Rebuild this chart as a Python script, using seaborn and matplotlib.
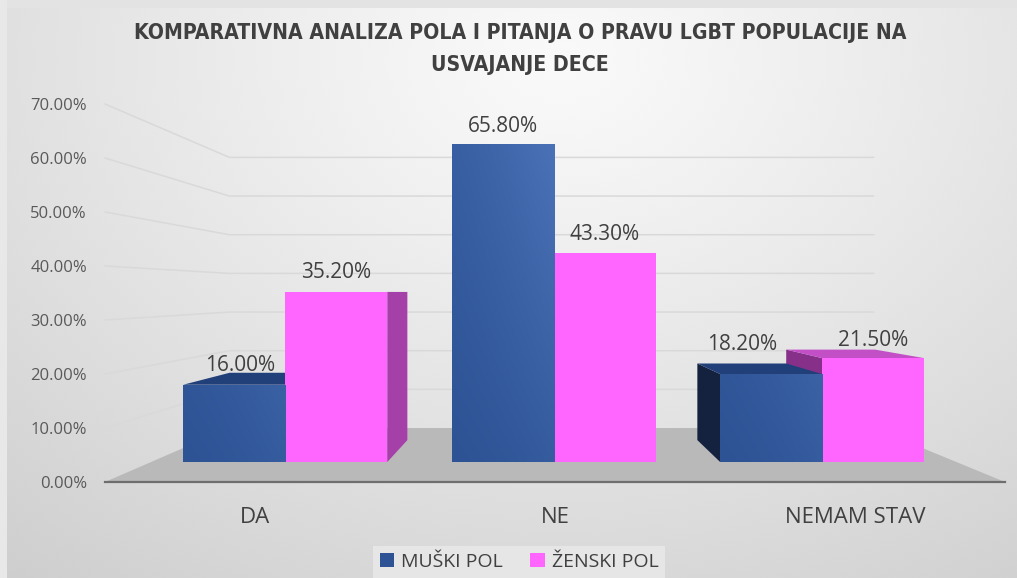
import numpy as np
import pandas as pd
import matplotlib
matplotlib.use("Agg")
import matplotlib.pyplot as plt
import seaborn as sns
from matplotlib import font_manager
from matplotlib.font_manager import FontProperties
from matplotlib.patches import Polygon, Patch
from matplotlib.transforms import IdentityTransform
from matplotlib.ticker import PercentFormatter

# ---- data -----------------------------------------------------------------
categories = ["DA", "NE", "NEMAM STAV"]
series = ["MUŠKI POL", "ŽENSKI POL"]
muski_pol = [16.0, 65.8, 18.2]
zenski_pol = [35.2, 43.3, 21.5]
y_ticks = [0, 10, 20, 30, 40, 50, 60, 70]
title_lines = ["KOMPARATIVNA ANALIZA POLA I PITANJA O PRAVU LGBT POPULACIJE NA",
               "USVAJANJE DECE"]

df = pd.DataFrame({
    "kategorija": categories * 2,
    "pol": [series[0]] * len(categories) + [series[1]] * len(categories),
    "procenat": muski_pol + zenski_pol,
})

# ---- style ----------------------------------------------------------------
W, H = 1017, 578
BLUE, BLUE_LIGHT = "#2D5395", "#4A72B6"
BLUE_TOP, BLUE_SIDE = "#213F79", "#15223F"
PINK, PINK_TOP, PINK_SIDE, PINK_SIDE_DARK = "#FF66FF", "#C24FC6", "#A540A8", "#86308A"
TEXT = "#404040"
TICK = "#595959"

sns.set_theme(style="white")
plt.rcParams["font.family"] = ["Open Sans", "DejaVu Sans"]


def weight_num(w):
    if isinstance(w, (int, float)):
        return w
    table = {"bold": 700, "heavy": 800, "black": 900, "semibold": 600,
             "demibold": 600, "extra bold": 800, "ultrabold": 800}
    return table.get(str(w).lower(), 400)


def narrow_bold_font():
    """A condensed bold face for the title, if one is installed."""
    preferred = ["Liberation Sans Narrow", "DejaVu Sans", "Noto Sans",
                 "Open Sans", "Roboto", "Lato"]
    found = []
    for f in font_manager.fontManager.ttflist:
        narrow = (f.stretch in ("condensed", "semi-condensed")
                  or "Narrow" in f.name or "Condensed" in f.name)
        if narrow and 650 <= weight_num(f.weight) <= 750 and f.style == "normal":
            rank = next((i for i, p in enumerate(preferred) if f.name.startswith(p)),
                        len(preferred))
            found.append((rank, f.fname))
    if found:
        return FontProperties(fname=sorted(found)[0][1])
    return FontProperties(family="Roboto", weight="bold")


fig = plt.figure(figsize=(W / 100, H / 100), dpi=100)

# perspective: vanishing point (pixels, origin top-left) and depth ratios
VX, VY = 543.0, 292.0
K_FLOOR = 0.716     # back edge of floor / back wall
K_BARS = 0.895      # plane of the bar fronts
K_DEPTH = 0.871     # bar back faces relative to bar fronts


def project(x, y, k):
    return VX + k * (x - VX), VY + k * (y - VY)


def fig_box(left, top, right, bottom):
    return [left / W, 1 - bottom / H, (right - left) / W, (bottom - top) / H]


def to_px(ax, x, y):
    dx, dy = ax.transData.transform((x, y))
    return dx, H - dy


# ---- background -----------------------------------------------------------
bg = fig.add_axes([0, 0, 1, 1], zorder=0)
yy, xx = np.mgrid[0:H, 0:W]
r = np.sqrt(((xx - 560) / 760.0) ** 2 + ((yy - 60) / 560.0) ** 2)
shade = np.clip(0.98 - 0.1426 * r ** 1.13, 0.78, 1.0)
bayer = np.array([[0, 8, 2, 10], [12, 4, 14, 6], [3, 11, 1, 9], [15, 7, 13, 5]]) / 16.0 - 0.47
shade = shade + np.tile(bayer, (H // 4 + 1, W // 4 + 1))[:H, :W] / 255.0
bg.imshow(np.dstack([shade] * 3).clip(0, 1), extent=[0, W, H, 0],
          aspect="auto", interpolation="nearest")
bg.add_patch(plt.Rectangle((0, 0), W, 8, color="#e3e3e3", lw=0))
bg.add_patch(plt.Rectangle((0, 0), 7, H, color="#e8e8e8", lw=0))
bg.set_xlim(0, W)
bg.set_ylim(H, 0)
bg.axis("off")

# ---- front plane: value axis and category axis ---------------------------
FRONT = (105, 104, 1005, 482)
ax_front = fig.add_axes(fig_box(*FRONT), zorder=1)
ax_front.set_xlim(-0.5, len(categories) - 0.5)
ax_front.set_ylim(y_ticks[0], y_ticks[-1])
ax_front.patch.set_visible(False)
for side in ("left", "right", "top"):
    ax_front.spines[side].set_visible(False)
ax_front.spines["bottom"].set_color("#6e6e6e")
ax_front.spines["bottom"].set_linewidth(1.6)
ax_front.set_yticks(y_ticks)
ax_front.yaxis.set_major_formatter(PercentFormatter(xmax=100, decimals=2))
ax_front.set_xticks(range(len(categories)))
ax_front.set_xticklabels(categories)
ax_front.tick_params(axis="y", length=0, pad=13, labelsize=12, labelcolor=TICK)
ax_front.tick_params(axis="x", length=0, pad=18, labelsize=16, labelcolor=TEXT)
ax_front.grid(False)

# floor (projected from the front baseline)
x_l, y0 = to_px(ax_front, -0.5, 0)
x_r, _ = to_px(ax_front, len(categories) - 0.5, 0)
bl = project(x_l, y0, K_FLOOR)
br = project(x_r, y0, K_FLOOR)
bg.add_patch(Polygon([(x_l, y0), (x_r, y0), br, bl], closed=True,
                     facecolor="#b9b9b9", edgecolor="none", zorder=3))

# back-wall gridlines, with the diagonal run along the side wall
for t in y_ticks[1:]:
    px, py = to_px(ax_front, -0.5, t)
    bx, by = project(px, py, K_FLOOR)
    ex, _ = project(x_r, py, K_FLOOR)
    bg.plot([px, bx, ex], [py, by, by], color="#d9d9d9", lw=1.1, zorder=2,
            solid_joinstyle="miter")

# ---- bars -----------------------------------------------------------------
b_left, b_top = project(FRONT[0], FRONT[1], K_BARS)
b_right, b_bottom = project(FRONT[2], FRONT[3], K_BARS)
ax_bars = fig.add_axes(fig_box(b_left, b_top, b_right, b_bottom), zorder=2)
sns.barplot(data=df, x="kategorija", y="procenat", hue="pol",
            hue_order=series, order=categories, palette=[BLUE, PINK],
            saturation=1, width=0.76, linewidth=0, legend=False, ax=ax_bars)
ax_bars.set_xlim(-0.5, len(categories) - 0.5)
ax_bars.set_ylim(y_ticks[0], y_ticks[-1])
ax_bars.patch.set_visible(False)
ax_bars.axis("off")

bars = [p for p in ax_bars.patches if p.get_height() > 0]
blue_rgb = matplotlib.colors.to_rgb(BLUE)
vmax = max(muski_pol)
c0 = np.array(matplotlib.colors.to_rgb(BLUE))
c1 = np.array(matplotlib.colors.to_rgb(BLUE_LIGHT))


def add_face(pts, color, z):
    disp = [(x, H - y) for x, y in pts]
    ax_bars.add_patch(Polygon(disp, closed=True, facecolor=color,
                              edgecolor="none", transform=IdentityTransform(),
                              clip_on=False, zorder=z))


for bar in bars:
    is_blue = np.allclose(bar.get_facecolor()[:3], blue_rgb, atol=0.02)
    x0, w, h = bar.get_x(), bar.get_width(), bar.get_height()
    bar.set_zorder(3)

    # corners of the front face in pixels (origin top-left)
    X0, Y0 = to_px(ax_bars, x0, 0)
    X1, Y1 = to_px(ax_bars, x0 + w, h)
    bX0, bY1 = project(X0, Y1, K_DEPTH)
    bX1, _ = project(X1, Y1, K_DEPTH)

    if X1 < VX:   # right-hand side face
        p_top = project(X1, Y1, K_DEPTH)
        p_bot = project(X1, Y0, K_DEPTH)
        add_face([(X1, Y0), (X1, Y1), p_top, p_bot],
                 BLUE_SIDE if is_blue else PINK_SIDE, 1)
    if X0 > VX + 2:   # left-hand side face
        p_top = project(X0, Y1, K_DEPTH)
        p_bot = project(X0, Y0, K_DEPTH)
        add_face([(X0, Y0), (X0, Y1), p_top, p_bot],
                 BLUE_SIDE if is_blue else PINK_SIDE_DARK, 1)
    if Y1 > VY + 1:   # top face
        add_face([(X0, Y1), (X1, Y1), (bX1, bY1), (bX0, bY1)],
                 BLUE_TOP if is_blue else PINK_TOP, 2)

    if is_blue:
        # soft diagonal shading of the blue front faces
        n = 64
        gx, gy = np.meshgrid(np.linspace(0, 1, n), np.linspace(0, 1, n))
        t = (0.3 * gx + 0.7 * gy * h / vmax) * (0.55 + 0.45 * gx)
        t = np.clip(t, 0, 1)[..., None]
        img = c0 + t * (c1 - c0)
        im = ax_bars.imshow(img, extent=[x0, x0 + w, 0, h], origin="lower",
                            aspect="auto", interpolation="bilinear", zorder=3.1)
        im.set_clip_path(bar)

ax_bars.set_xlim(-0.5, len(categories) - 0.5)
ax_bars.set_ylim(y_ticks[0], y_ticks[-1])

# value labels above each bar (x/y nudge in pixels)
label_nudge = {(0, 0): (6, 19), (0, 1): (0, 19), (1, 0): (0, 18),
               (1, 1): (0, 18), (2, 0): (-29, 30), (2, 1): (0, 18)}
for i, cat in enumerate(categories):
    for j, vals in enumerate([muski_pol, zenski_pol]):
        v = vals[i]
        cx = i + (j - 0.5) * 0.38
        dx, dy = label_nudge[(i, j)]
        ax_bars.annotate(f"{v:.2f}%", xy=(cx, v), xytext=(dx, dy),
                         textcoords="offset pixels", ha="center", va="center",
                         fontsize=15, color=TEXT, zorder=5)

# ---- title ----------------------------------------------------------------
renderer = fig.canvas.get_renderer()
title_font = narrow_bold_font()
title_font.set_size(16)
t1 = fig.text(520 / W, 1 - 33 / H, title_lines[0], ha="center", va="center",
              color=TEXT, fontproperties=title_font)
width = t1.get_window_extent(renderer).width
title_font = title_font.copy()
title_font.set_size(min(17.0, 16 * 776.0 / width))
t1.set_fontproperties(title_font)
fig.text(520 / W, 1 - 65 / H, title_lines[1], ha="center", va="center",
         color=TEXT, fontproperties=title_font)

# ---- legend ---------------------------------------------------------------
handles = [Patch(facecolor=BLUE, edgecolor="none"),
           Patch(facecolor=PINK, edgecolor="none")]
leg = fig.legend(handles, series, loc="center", bbox_to_anchor=(519 / W, 1 - 562 / H),
                 ncol=2, frameon=True, facecolor="#e6e6e6", edgecolor="none",
                 framealpha=1, fancybox=False, fontsize=14, handlelength=0.75,
                 handleheight=0.75, handletextpad=0.35, columnspacing=1.4,
                 borderpad=0.35)
for txt in leg.get_texts():
    txt.set_color(TEXT)

fig.savefig("out.png", dpi=100)
